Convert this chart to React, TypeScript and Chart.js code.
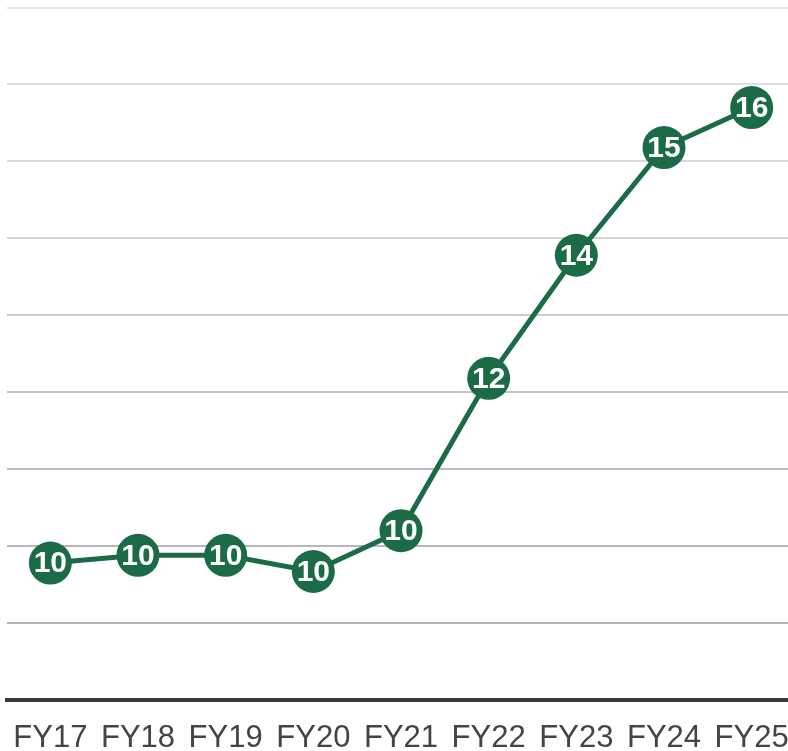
import React, { useEffect, useRef } from "react";
import { Chart, registerables } from "chart.js";

Chart.register(...registerables);

const categories = ["FY17", "FY18", "FY19", "FY20", "FY21", "FY22", "FY23", "FY24", "FY25"];
const values = [9.78, 9.88, 9.88, 9.67, 10.2, 12.18, 13.78, 15.18, 15.7];
const pointLabels = ["10", "10", "10", "10", "10", "12", "14", "15", "16"];
const yMin = 8;
const yMax = 17;

const GREEN = "#1c6b47";

const labelPlugin = {
  id: "pointLabels",
  afterDatasetsDraw(chart: any) {
    const ctx = chart.ctx;
    const meta = chart.getDatasetMeta(0);
    ctx.save();
    ctx.fillStyle = "#ffffff";
    ctx.font = "bold 30px 'Liberation Sans', Arial, sans-serif";
    ctx.textAlign = "center";
    ctx.textBaseline = "middle";
    meta.data.forEach((pt: any, i: number) => {
      ctx.fillText(pointLabels[i], pt.x, pt.y + 1);
    });
    ctx.restore();
  },
};

export default function App() {
  const ref = useRef<HTMLCanvasElement>(null);
  useEffect(() => {
    document.documentElement.style.overflow = "hidden";
    document.body.style.margin = "0";
    const chart = new Chart(ref.current!, {
      type: "line",
      data: {
        labels: categories,
        datasets: [
          {
            data: values,
            borderColor: GREEN,
            borderWidth: 5,
            backgroundColor: GREEN,
            pointBackgroundColor: GREEN,
            pointBorderWidth: 0,
            pointRadius: 21.5,
            tension: 0,
          },
        ],
      },
      options: {
        animation: false,
        responsive: false,
        maintainAspectRatio: false,
        layout: { padding: 0 },
        plugins: { legend: { display: false }, tooltip: { enabled: false } },
        scales: {
          x: {
            offset: true,
            grid: { display: false, drawTicks: false },
            border: { display: true, color: "#3a3a3a", width: 4 },
            ticks: {
              color: "#444444",
              padding: 23,
              font: { size: 31, family: "'Liberation Sans', Arial, sans-serif", lineHeight: 1 },
              maxRotation: 0,
              autoSkip: false,
            },
          },
          y: {
            min: yMin,
            max: yMax,
            ticks: { display: false, stepSize: 1 },
            border: { display: false },
            grid: {
              drawTicks: false,
              lineWidth: (c: any) => (c.tick && c.tick.value === yMin ? 0 : 2),
              color: (c: any) => {
                const v = c.tick ? c.tick.value : yMax;
                const t = (v - 9) / (yMax - 9);
                const g = Math.round(176 + t * (230 - 176));
                return `rgb(${g},${g},${g})`;
              },
            },
          },
        },
      },
      plugins: [labelPlugin],
    });
    return () => chart.destroy();
  }, []);
  return (
    <div style={{ position: "relative", marginLeft: -15, marginTop: -14, width: 832, height: 791 }}>
      <canvas ref={ref} width={832} height={791} style={{ display: "block" }} />
    </div>
  );
}
